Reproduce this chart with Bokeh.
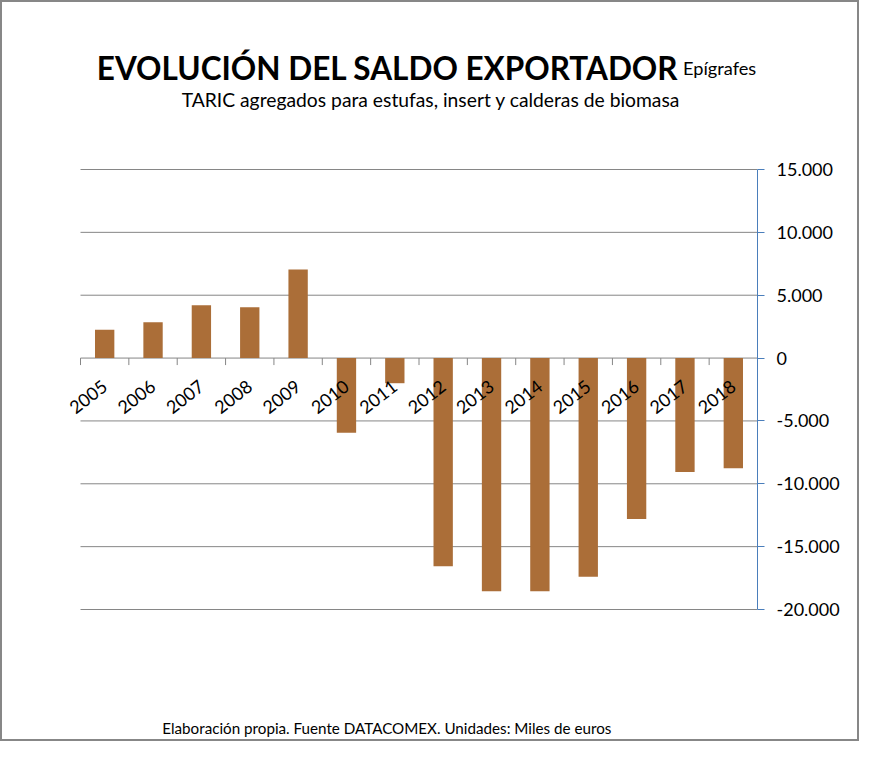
import numpy as np
from bokeh.plotting import figure
from bokeh.models import (ColumnDataSource, FixedTicker, CustomJSTickFormatter, Range1d)
from bokeh.core.properties import value
from bokeh.embed import file_html
from bokeh.resources import INLINE

# ---- data ----
years = ["2005", "2006", "2007", "2008", "2009", "2010", "2011",
         "2012", "2013", "2014", "2015", "2016", "2017", "2018"]
saldo = [2250, 2850, 4200, 4050, 7050, -5950, -2000,
         -16550, -18550, -18550, -17400, -12800, -9070, -8760]
y_ticks = [-20000, -15000, -10000, -5000, 0, 5000, 10000, 15000]

title_main = "EVOLUCIÓN DEL SALDO EXPORTADOR"
title_small = "Epígrafes"
subtitle = "TARIC agregados para estufas, insert y calderas de biomasa"
footer = "Elaboración propia. Fuente DATACOMEX. Unidades: Miles de euros"

FONT = "Lato"
BAR = "#AB6E38"
GRID = "#868686"
AXIS = "#4A7EBB"

# ---- layout (canvas pixels) ----
CW, CH = 855, 737          # canvas size (plus 2px css border each side)
FR = 755                   # frame right edge
PX_X0 = 78                 # canvas x of category boundary 0
PY_TOP, PY_BOT = 167, 607  # canvas y of top / bottom tick

n = len(years)
ymin, ymax = y_ticks[0], y_ticks[-1]
sx = n / (FR - PX_X0)
sy = (ymax - ymin) / (PY_BOT - PY_TOP)
x_start = -PX_X0 * sx
y_end = ymax + PY_TOP * sy
y_start = ymin - (CH - PY_BOT) * sy


def X(px):  # output-image px -> data x
    return (px - 2 - PX_X0) * sx


def Y(py):  # output-image px -> data y
    return ymax - (py - 2 - PY_TOP) * sy


centers = np.arange(n) + 0.5
bounds = np.arange(n + 1)

src = ColumnDataSource(dict(x=centers, top=saldo, year=years, zero=[0] * n))

p = figure(frame_width=FR, frame_height=CH,
           min_border_left=0, min_border_right=CW - FR,
           min_border_top=0, min_border_bottom=0,
           x_range=Range1d(x_start, n), y_range=Range1d(y_start, y_end),
           y_axis_location="right",
           output_backend="svg", toolbar_location=None,
           background_fill_color="white", border_fill_color="white")
p.styles = {"border": "2px solid #878787"}
p.outline_line_color = None

# axes
p.xaxis.visible = False
p.xgrid.visible = False
p.ygrid.visible = False
ax = p.yaxis[0]
ax.bounds = (ymin, ymax)
ax.ticker = FixedTicker(ticks=y_ticks)
ax.formatter = CustomJSTickFormatter(code="""
    var s = Math.abs(tick).toFixed(0).replace(/\\B(?=(\\d{3})+(?!\\d))/g, ".");
    return (tick < 0 ? "-" : "") + s;
""")
ax.axis_line_color = AXIS
ax.major_tick_line_color = AXIS
ax.major_tick_out = 7
ax.major_tick_in = 0
ax.minor_tick_line_color = None
ax.major_label_standoff = 12
ax.major_label_text_font = FONT
ax.major_label_text_font_size = "18px"
ax.major_label_text_color = "black"

# gridlines (incl. zero line)
p.segment(x0=[0] * len(y_ticks), x1=[n] * len(y_ticks), y0=y_ticks, y1=y_ticks,
          line_color=GRID, line_width=1)

# bars
p.vbar(x="x", top="top", bottom=0, width=0.4, source=src,
       fill_color=BAR, line_color=None)

# category tick marks on the zero line
p.ray(x=bounds, y=[0] * (n + 1), length=7, length_units="screen",
      angle=-np.pi / 2, line_color=GRID, line_width=1)
# category labels
p.text(x="x", y="zero", text="year", source=src, angle=0.66,
       text_align="right", text_baseline="middle", y_offset=26,
       text_font=value(FONT), text_font_size="18px", text_color="black")

# titles
p.text(x=[X(678)], y=[Y(67.8)], text=[title_main], text_align="right",
       text_baseline="alphabetic", text_font=value(FONT), text_font_size="31.5px",
       text_font_style="bold", text_color="black")
p.text(x=[X(682.5)], y=[Y(67.8)], text=[title_small], text_align="left",
       text_baseline="alphabetic", text_font=value(FONT), text_font_size="18.2px",
       text_color="black")
p.text(x=[X(430.5)], y=[Y(98.6)], text=[subtitle], text_align="center",
       text_baseline="alphabetic", text_font=value(FONT), text_font_size="19.3px",
       text_color="black")
p.text(x=[X(386.3)], y=[Y(727.6)], text=[footer], text_align="center",
       text_baseline="alphabetic", text_font=value(FONT), text_font_size="15.2px",
       text_color="black")

open("out.html", "w").write(file_html(p, INLINE))
